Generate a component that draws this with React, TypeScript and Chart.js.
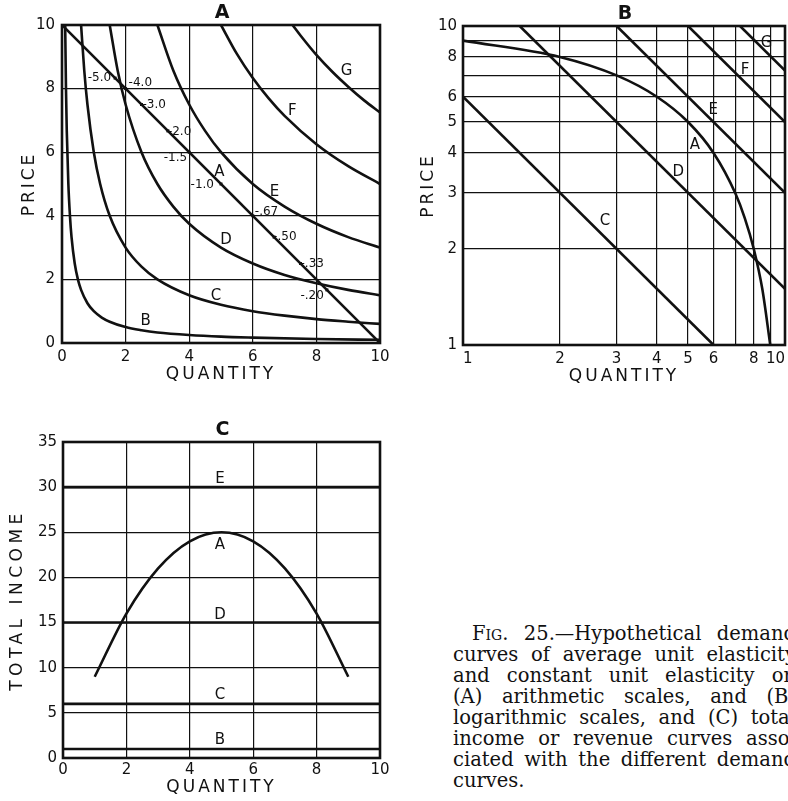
import React, { useEffect, useRef } from 'react';
import { Chart, registerables } from 'chart.js';

Chart.register(...registerables);

// ---------------- Panel A: arithmetic scales ----------------
const aTickStep = 2;
const curveA_Q = [0, 10];
const curveA_P = [10, 0];
const curveB_Q = [0.1, 0.125, 0.15, 0.2, 0.25, 0.3, 0.4, 0.5, 0.6, 0.8, 1, 1.25, 1.5, 2, 2.5, 3, 4, 5, 6, 8, 10];
const curveB_P = [10, 8, 6.67, 5, 4, 3.33, 2.5, 2, 1.67, 1.25, 1, 0.8, 0.67, 0.5, 0.4, 0.33, 0.25, 0.2, 0.17, 0.125, 0.1];
const curveC_Q = [0.6, 0.7, 0.8, 1, 1.2, 1.5, 2, 2.5, 3, 4, 5, 6, 7, 8, 9, 10];
const curveC_P = [10, 8.57, 7.5, 6, 5, 4, 3, 2.4, 2, 1.5, 1.2, 1, 0.86, 0.75, 0.67, 0.6];
const curveD_Q = [1.5, 1.75, 2, 2.5, 3, 3.5, 4, 5, 6, 7, 8, 9, 10];
const curveD_P = [10, 8.57, 7.5, 6, 5, 4.29, 3.75, 3, 2.5, 2.14, 1.88, 1.67, 1.5];
const curveE_Q = [3, 3.5, 4, 4.5, 5, 6, 7, 8, 9, 10];
const curveE_P = [10, 8.57, 7.5, 6.67, 6, 5, 4.29, 3.75, 3.33, 3];
const curveF_Q = [5, 5.5, 6, 6.5, 7, 8, 9, 10];
const curveF_P = [10, 9.09, 8.33, 7.69, 7.14, 6.25, 5.56, 5];
const curveG_Q = [7.25, 7.5, 8, 8.5, 9, 9.5, 10];
const curveG_P = [10, 9.67, 9.06, 8.53, 8.06, 7.63, 7.25];

const aLabelNames = ['A', 'B', 'C', 'D', 'E', 'F', 'G'];
const aLabelQ = [4.95, 2.63, 4.84, 5.16, 6.68, 7.24, 8.95];
const aLabelP = [5.36, 0.68, 1.46, 3.23, 4.74, 7.3, 8.54];

const elasticityText = ['-5.0', '-4.0', '-3.0', '-2.0', '-1.5', '-1.0', '-.67', '-.50', '-.33', '-.20'];
const elasticityQ = [1.67, 2, 2.5, 3.33, 4, 5, 6, 6.67, 7.5, 8.33];
const elasticityP = [8.33, 8, 7.5, 6.67, 6, 5, 4, 3.33, 2.5, 1.67];

// ---------------- Panel B: logarithmic scales ----------------
const bGridValues = [1, 2, 3, 4, 5, 6, 7, 8, 9, 10];
const bLabelledValues = [1, 2, 3, 4, 5, 6, 8, 10];
const logA_Q = [1, 2, 3, 4, 5, 6, 7, 7.5, 8, 8.5, 9];
const logA_P = [9, 8, 7, 6, 5, 4, 3, 2.5, 2, 1.5, 1];
const logC_Q = [1, 6];
const logC_P = [6, 1];
const logD_Q = [1.5, 10];
const logD_P = [10, 1.5];
const logE_Q = [3, 10];
const logE_P = [10, 3];
const logF_Q = [5, 10];
const logF_P = [10, 5];
const logG_Q = [7.25, 10];
const logG_P = [10, 7.25];

const bLabelNames = ['G', 'F', 'E', 'A', 'D', 'C'];
const bLabelQ = [8.77, 7.51, 5.99, 5.25, 4.66, 2.76];
const bLabelP = [8.83, 7.28, 5.45, 4.24, 3.49, 2.44];

// ---------------- Panel C: total income ----------------
const incomeQ = [1, 2, 3, 4, 5, 6, 7, 8, 9];
const incomeA = [9, 16, 21, 24, 25, 24, 21, 16, 9];
const constantNames = ['E', 'D', 'C', 'B'];
const constantIncome = [30, 15, 6, 1];
const cLabelNames = ['E', 'A', 'D', 'C', 'B'];
const cLabelQ = [4.95, 4.95, 4.95, 4.95, 4.95];
const cLabelIncome = [30.9, 23.6, 15.8, 7.0, 1.95];

// ---------------- Caption ----------------
const captionLines = [
  'Fig. 25.\u2014Hypothetical demand',
  'curves of average unit elasticity',
  'and constant unit elasticity on',
  '(A) arithmetic scales, and (B)',
  'logarithmic scales, and (C) total',
  'income or revenue curves asso-',
  'ciated with the different demand',
  'curves.',
];

// ---------------- styling ----------------
const INK = '#111111';
const FONT = "'DejaVu Sans', sans-serif";
// [dx, dy, align] for elasticity labels
const elasticityOffsets: [number, number, CanvasTextAlign][] = [
  [-4, 0, 'right'], [3, -6, 'left'], [1, 0, 'left'], [0, 1, 'left'], [-2, 6, 'right'],
  [-7, 1, 'right'], [2, -4, 'left'], [-1, 0, 'left'], [0, 0, 'left'], [-3, 6, 'right'],
];

function spacedTitle(scale: any, spacing: string) {
  if (scale.__spaced) return;
  const orig = scale.drawTitle;
  scale.drawTitle = function (...args: any[]) {
    const ctx = this.ctx;
    ctx.save();
    ctx.letterSpacing = spacing;
    orig.apply(this, args);
    ctx.restore();
  };
  scale.__spaced = true;
}

function makeScale(p: {
  type: 'linear' | 'logarithmic';
  min: number;
  max: number;
  stepSize?: number;
  gridValues?: number[];
  labelValues?: number[];
  title: string;
  titlePad: number;
  titleSpacing?: string;
  tickPad: number;
  tickAlign?: string;
  thickness: number;
  horizontal: boolean;
}) {
  return {
    type: p.type,
    min: p.min,
    max: p.max,
    afterBuildTicks: p.gridValues
      ? (s: any) => {
          s.ticks = p.gridValues!.map((v) => ({ value: v }));
        }
      : undefined,
    ticks: {
      stepSize: p.stepSize,
      autoSkip: false,
      maxRotation: 0,
      minRotation: 0,
      padding: p.tickPad,
      align: p.tickAlign || 'center',
      color: INK,
      font: { family: FONT, size: 15 },
      callback: (v: any) => {
        const n = Number(v);
        if (p.labelValues) return p.labelValues.includes(n) ? String(n) : '';
        return String(n);
      },
    },
    grid: { color: INK, lineWidth: 1.2, drawTicks: false },
    border: { display: false },
    title: {
      display: true,
      text: p.title,
      color: INK,
      font: { family: FONT, size: 17 },
      padding: p.horizontal ? { top: 0, bottom: p.titlePad } : { top: p.titlePad, bottom: 0 },
    },
    afterFit: (s: any) => {
      if (p.horizontal) s.height = p.thickness;
      else s.width = p.thickness;
      s.paddingLeft = 0;
      s.paddingRight = 0;
      s.paddingTop = 0;
      s.paddingBottom = 0;
      spacedTitle(s, p.titleSpacing || '3px');
    },
  };
}

function lineDataset(q: number[], p: number[], smooth: boolean) {
  return {
    data: q.map((x, i) => ({ x, y: p[i] })),
    borderColor: INK,
    backgroundColor: INK,
    borderWidth: 2.6,
    pointRadius: 0,
    showLine: true,
    fill: false,
    tension: 0,
    cubicInterpolationMode: smooth ? 'monotone' : 'default',
  };
}

const framePlugin = {
  id: 'frame',
  afterDatasetsDraw(chart: any) {
    const { ctx, chartArea: a } = chart;
    ctx.save();
    ctx.strokeStyle = INK;
    ctx.lineWidth = 2.6;
    ctx.strokeRect(a.left, a.top, a.right - a.left, a.bottom - a.top);
    ctx.restore();
  },
};

function labelPlugin(panel: string, names: string[], xs: number[], ys: number[], extra?: (chart: any) => void) {
  return {
    id: 'labels' + panel,
    afterDraw(chart: any) {
      const { ctx, chartArea: a, scales } = chart;
      ctx.save();
      ctx.fillStyle = INK;
      ctx.textBaseline = 'middle';
      ctx.textAlign = 'center';
      ctx.font = `bold 19px ${FONT}`;
      ctx.fillText(panel, (a.left + a.right) / 2 + 1, a.top - 12);
      ctx.font = `15px ${FONT}`;
      names.forEach((n, i) => {
        ctx.fillText(n, scales.x.getPixelForValue(xs[i]), scales.y.getPixelForValue(ys[i]));
      });
      if (extra) extra(chart);
      ctx.restore();
    },
  };
}

function drawElasticities(chart: any) {
  const { ctx, scales } = chart;
  ctx.font = `12px ${FONT}`;
  ctx.textBaseline = 'middle';
  elasticityText.forEach((t, i) => {
    const x = scales.x.getPixelForValue(elasticityQ[i]);
    const y = scales.y.getPixelForValue(elasticityP[i]);
    ctx.fillRect(x - 1.5, y - 1.5, 3, 3);
    const [dx, dy, align] = elasticityOffsets[i];
    ctx.textAlign = align;
    ctx.fillText(t, x + dx, y + dy);
  });
}

const baseOptions = (padding: any) => ({
  responsive: false,
  animation: false as const,
  events: [] as any[],
  layout: { padding },
  plugins: { legend: { display: false }, tooltip: { enabled: false }, title: { display: false } },
});

function configA(): any {
  return {
    type: 'scatter',
    data: {
      datasets: [
        lineDataset(curveA_Q, curveA_P, false),
        lineDataset(curveB_Q, curveB_P, true),
        lineDataset(curveC_Q, curveC_P, true),
        lineDataset(curveD_Q, curveD_P, true),
        lineDataset(curveE_Q, curveE_P, true),
        lineDataset(curveF_Q, curveF_P, true),
        lineDataset(curveG_Q, curveG_P, true),
      ],
    },
    options: {
      ...baseOptions({ top: 25, right: 12, left: 0, bottom: 0 }),
      scales: {
        x: makeScale({ type: 'linear', min: 0, max: 10, stepSize: aTickStep, title: 'QUANTITY', titlePad: 7, tickPad: 5, thickness: 49, horizontal: true }),
        y: makeScale({ type: 'linear', min: 0, max: 10, stepSize: aTickStep, title: 'PRICE', titlePad: 19, tickPad: 7, thickness: 62, horizontal: false }),
      },
    },
    plugins: [framePlugin, labelPlugin('A', aLabelNames, aLabelQ, aLabelP, drawElasticities)],
  };
}

function configB(): any {
  return {
    type: 'scatter',
    data: {
      datasets: [
        lineDataset(logA_Q, logA_P, true),
        lineDataset(logC_Q, logC_P, false),
        lineDataset(logD_Q, logD_P, false),
        lineDataset(logE_Q, logE_P, false),
        lineDataset(logF_Q, logF_P, false),
        lineDataset(logG_Q, logG_P, false),
      ],
    },
    options: {
      ...baseOptions({ top: 26, right: 3, left: 0, bottom: 0 }),
      scales: {
        x: makeScale({ type: 'logarithmic', min: 1, max: 10, gridValues: bGridValues, labelValues: bLabelledValues, title: 'QUANTITY', titlePad: 5, tickPad: 5, tickAlign: 'inner', thickness: 47, horizontal: true }),
        y: makeScale({ type: 'logarithmic', min: 1, max: 10, gridValues: bGridValues, labelValues: bLabelledValues, title: 'PRICE', titlePad: 23, tickPad: 6, thickness: 68, horizontal: false }),
      },
    },
    plugins: [framePlugin, labelPlugin('B', bLabelNames, bLabelQ, bLabelP)],
  };
}

function configC(): any {
  return {
    type: 'scatter',
    data: {
      datasets: [
        lineDataset(incomeQ, incomeA, true),
        ...constantIncome.map((v) => lineDataset([0, 10], [v, v], false)),
      ],
    },
    options: {
      ...baseOptions({ top: 42, right: 12, left: 0, bottom: 0 }),
      scales: {
        x: makeScale({ type: 'linear', min: 0, max: 10, stepSize: 2, title: 'QUANTITY', titlePad: 3, tickPad: 3, thickness: 43, horizontal: true }),
        y: makeScale({ type: 'linear', min: 0, max: 35, stepSize: 5, title: 'TOTAL INCOME', titlePad: 7, titleSpacing: '4.5px', tickPad: 6, thickness: 63, horizontal: false }),
      },
    },
    plugins: [framePlugin, labelPlugin('C', cLabelNames, cLabelQ, cLabelIncome)],
  };
}

function Caption() {
  return (
    <div
      style={{
        position: 'absolute',
        left: 453,
        top: 623,
        width: 343,
        fontFamily: "'DejaVu Serif', serif",
        fontSize: 19.5,
        lineHeight: '21px',
        color: INK,
      }}
    >
      {captionLines.map((line, i) => {
        const last = i === captionLines.length - 1;
        const words = line.split(' ');
        return (
          <div
            key={i}
            style={{
              display: 'flex',
              justifyContent: last ? 'flex-start' : 'space-between',
              columnGap: last ? '0.3em' : 0,
              marginLeft: i === 0 ? 19 : 0,
              whiteSpace: 'nowrap',
            }}
          >
            {words.map((w, j) =>
              i === 0 && j === 0 ? (
                <span key={j} style={{ fontVariant: 'small-caps' }}>{w}</span>
              ) : (
                <span key={j}>{w}</span>
              )
            )}
          </div>
        );
      })}
    </div>
  );
}

export default function App() {
  const refA = useRef<HTMLCanvasElement>(null);
  const refB = useRef<HTMLCanvasElement>(null);
  const refC = useRef<HTMLCanvasElement>(null);

  useEffect(() => {
    const charts = [
      new Chart(refA.current!, configA()),
      new Chart(refB.current!, configB()),
      new Chart(refC.current!, configC()),
    ];
    return () => charts.forEach((c) => c.destroy());
  }, []);

  return (
    <div style={{ position: 'absolute', left: 0, top: 0, width: 788, height: 801, overflow: 'hidden', background: '#fff' }}>
      <canvas ref={refA} width={392} height={392} style={{ position: 'absolute', left: 0, top: 0 }} />
      <canvas ref={refB} width={393} height={392} style={{ position: 'absolute', left: 395, top: 0 }} />
      <canvas ref={refC} width={392} height={401} style={{ position: 'absolute', left: 0, top: 400 }} />
      <Caption />
    </div>
  );
}
